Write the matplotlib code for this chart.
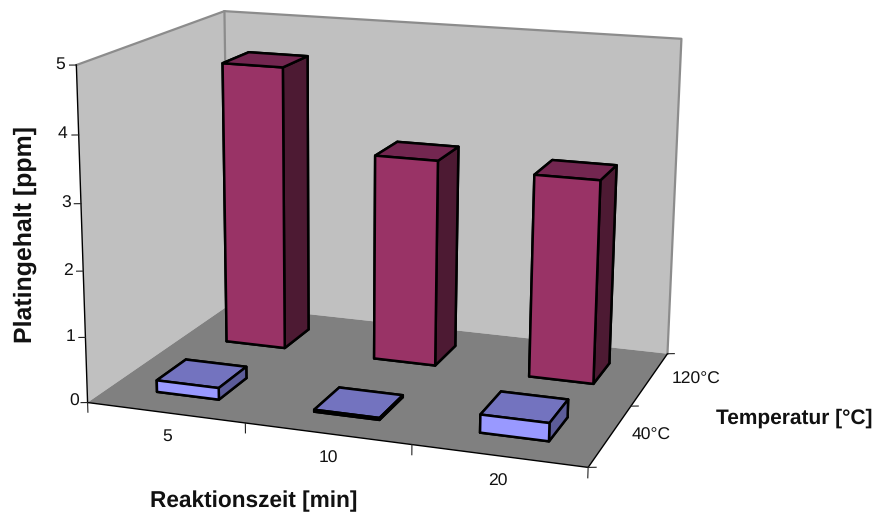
import numpy as np
import matplotlib
matplotlib.use("Agg")
import matplotlib.pyplot as plt
from mpl_toolkits.mplot3d.art3d import Poly3DCollection

plt.rcParams["font.family"] = ["Liberation Sans", "DejaVu Sans"]
plt.rcParams["text.hinting"] = "no_hinting"

W, H = 878, 512

x_labels = ["5", "10", "20"]
y_labels = ["40°C", "120°C"]
z_ticks = [0, 1, 2, 3, 4, 5]
values_40 = [0.18, 0.03, 0.27]
values_120 = [4.5, 3.24, 3.15]

n_x = len(x_labels)
n_y = len(y_labels)
z_max = z_ticks[-1]
bar_w = 0.4

# where the box corners sit in the picture, used to fit the camera
corners = [
    ((0, 0, 0), (89, 402)),
    ((n_x, 0, 0), (588, 468)),
    ((n_x, n_y, 0), (668, 353)),
    ((0, n_y, 0), (227, 306)),
    ((0, 0, z_max), (75, 65)),
    ((0, n_y, z_max), (226, 11)),
    ((n_x, n_y, z_max), (681, 39)),
]


def fit_camera(pairs):
    rows = []
    for (x, y, z), (u, v) in pairs:
        rows.append([x, y, z, 1, 0, 0, 0, 0, -u * x, -u * y, -u * z, -u])
        rows.append([0, 0, 0, 0, x, y, z, 1, -v * x, -v * y, -v * z, -v])
    P = np.linalg.svd(np.array(rows, dtype=float))[2][-1].reshape(3, 4)
    if P[2, 3] < 0:
        P = -P
    return P / P[2, 3]


P = fit_camera(corners)

fig = plt.figure(figsize=(W / 100, H / 100), dpi=100)
ax = fig.add_axes([0, 0, 1, 1], projection="3d")
ax.apply_aspect = lambda position=None: None  # keep the full figure, not a square
ax.set_axis_off()
ax.computed_zorder = False


def picture_proj():
    to_view = ax.transData.inverted().get_matrix() @ np.array(
        [[1, 0, 0], [0, -1, H], [0, 0, 1]], dtype=float
    )
    Q = to_view @ P
    return np.array([Q[0], Q[1], [0, 0, 0, -1], Q[2]])


ax.get_proj = picture_proj
ax.set_xlim(0, n_x)
ax.set_ylim(0, n_y)
ax.set_zlim(0, z_max)

# walls and floor
left_wall = [(0, 0, 0), (0, n_y, 0), (0, n_y, z_max), (0, 0, z_max)]
back_wall = [(0, n_y, 0), (n_x, n_y, 0), (n_x, n_y, z_max), (0, n_y, z_max)]
floor = [(0, 0, 0), (n_x, 0, 0), (n_x, n_y, 0), (0, n_y, 0)]
walls = Poly3DCollection([left_wall, back_wall], facecolor="#c0c0c0", edgecolor="none")
walls.set_zorder(1)
ax.add_collection3d(walls, autolim=False)
ground = Poly3DCollection([floor], facecolor="#808080", edgecolor="none")
ground.set_zorder(2)
ax.add_collection3d(ground, autolim=False)

grey = "#8c8c8c"
ax.plot([0, 0, n_x, n_x], [0, n_y, n_y, n_y], [z_max, z_max, z_max, 0], color=grey, lw=1.6, zorder=3)
ax.plot([0, 0], [n_y, n_y], [0, z_max], color=grey, lw=1.6, zorder=3)

# axis lines
ax.plot([0, 0], [0, 0], [0, z_max], color="black", lw=1.0, zorder=4)
ax.plot([0, n_x, n_x], [0, 0, n_y], [0, 0, 0], color="black", lw=1.0, zorder=4)

# tick marks
for k in z_ticks:
    ax.plot([0, -0.035], [0, -0.014], [k, k], color="#222222", lw=0.8, zorder=4)
for i in range(n_x + 1):
    ax.plot([i, i], [0, 0], [0, -0.15], color="#222222", lw=0.8, zorder=4)
for j in range(n_y + 1):
    ax.plot([n_x, n_x + 0.04], [j, j + 0.016], [0, 0], color="#222222", lw=0.8, zorder=4)

# faces in bar3d order: bottom, top, front, back, left, right
faces_120 = ["#732650", "#732650", "#993366", "#993366", "#4d1a33", "#4d1a33"]
faces_40 = ["#7373bf", "#7373bf", "#9999ff", "#9999ff", "#5c5c99", "#5c5c99"]


def draw_bars(values, row, face_colors, zorder):
    xs = np.arange(n_x) + (1 - bar_w) / 2
    ys = np.full(n_x, row + (1 - bar_w) / 2)
    bars = ax.bar3d(xs, ys, np.zeros(n_x), bar_w, bar_w, values, color=face_colors * n_x,
                    edgecolor="black", linewidth=1.8, shade=False)
    bars.set_zorder(zorder)


draw_bars(values_120, 1, faces_120, 5)
draw_bars(values_40, 0, faces_40, 6)


def label(px, py, text, **kw):
    fig.text(px / W, 1 - py / H, text, ha="center", va="center", color="#111111", **kw)


tick_size = 12.6
for k, px, py in zip(z_ticks, [79, 75, 73, 71, 67, 65], [401, 337, 271, 203, 134, 64]):
    fig.text(px / W, 1 - py / H, str(k), ha="right", va="center", fontsize=tick_size, color="#111111")
for name, px, py in zip(x_labels, [167, 328, 498], [436, 458, 481]):
    label(px, py, name, fontsize=tick_size)
for name, px, py in zip(y_labels, [651, 696], [435, 379]):
    label(px, py, name, fontsize=tick_size)

label(254, 501, "Reaktionszeit [min]", fontsize=16.3, fontweight="bold")
label(794, 418, "Temperatur [°C]", fontsize=15, fontweight="bold")
label(25, 235, "Platingehalt [ppm]", fontsize=17.9, fontweight="bold", rotation=90)

fig.savefig("out.png", dpi=100)
